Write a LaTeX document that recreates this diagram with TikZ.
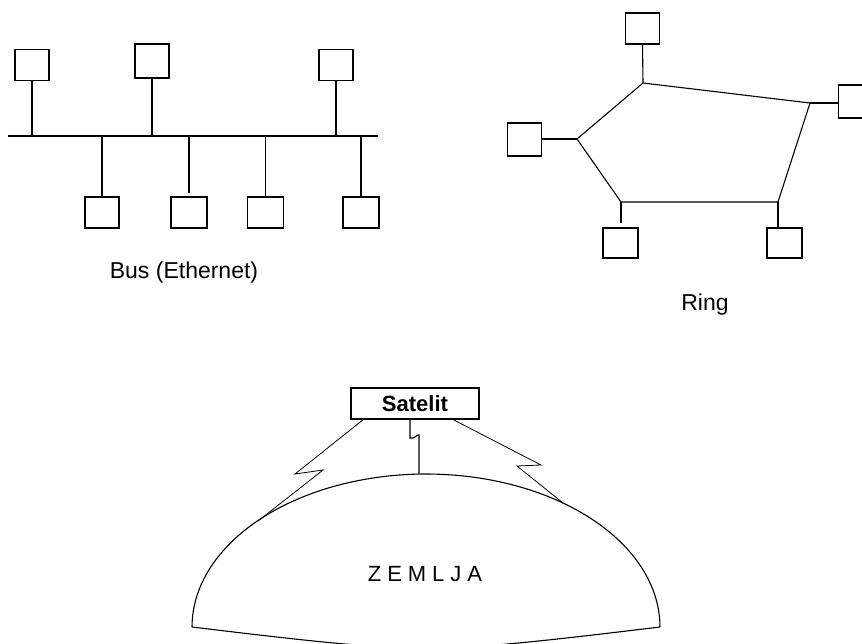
\documentclass[tikz,border=0pt]{standalone}
\usepackage{fontspec}
\setmainfont{Liberation Sans}
\begin{document}
\begin{tikzpicture}[x=1pt,y=-1pt,
  every node/.style={inner sep=0pt, outer sep=0pt},
  box/.style={draw, line width=1.2pt, minimum width=34pt, minimum height=31pt},
  wire/.style={line width=1.1pt},
  link/.style={line width=0.8pt, line join=miter},
  lbl/.style={font=\fontsize{23pt}{26pt}\selectfont}]
\useasboundingbox (0,0) rectangle (862,643);

% ---------- Bus ----------
\node[box] (b1) at (32,65) {};
\node[box, minimum height=34pt] (b2) at (152,61) {};
\node[box] (b3) at (336,65) {};
\node[box] (b4) at (102,212.5) {};
\node[box, minimum width=36pt] (b5) at (189,212.5) {};
\node[box, minimum width=36pt] (b6) at (265.5,212.5) {};
\node[box, minimum width=36pt] (b7) at (361,212.5) {};
\coordinate (busL) at (8,136);
\coordinate (busR) at (378,136);
\coordinate (b5end) at (189,193);
\draw[wire] (busL) -- (busR);
\draw[wire] (b1.south) -- (b1.south |- busL);
\draw[wire] (b2.south) -- (b2.south |- busL);
\draw[wire] (b3.south) -- (b3.south |- busL);
\draw[wire] (b4.north |- busL) -- (b4.north);
\draw[wire] (b5end |- busL) -- (b5end);
\draw[wire] (b6.north |- busL) -- (b6.north);
\draw[wire] (b7.north |- busL) -- (b7.north);
\node[lbl, anchor=base] (buslbl) at (184,278) {Bus (Ethernet)};

% ---------- Ring ----------
\node[box] (r1) at (642.5,28.5) {};
\node[box, minimum height=33pt] (r2) at (855.5,101.5) {};
\node[box, minimum height=33pt] (r3) at (524.5,139.5) {};
\node[box, minimum width=35pt, minimum height=30pt] (r4) at (620.5,243) {};
\node[box, minimum width=35pt, minimum height=30pt] (r5) at (784.5,243) {};
\coordinate (va) at (643,83);
\coordinate (vb) at (810,103);
\coordinate (vc) at (778,202);
\coordinate (vd) at (621,202);
\coordinate (ve) at (577,139);
\coordinate (r4end) at (621,223);
\draw[wire] (va) -- (vb) -- (vc) -- (vd) -- (ve) -- cycle;
\draw[wire] (r1.south) -- (va);
\draw[wire] (vb) -- (vb -| r2.west);
\draw[wire] (ve) -- (ve -| r3.east);
\draw[wire] (vd) -- (r4end);
\draw[wire] (vc) -- (vc |- r5.north);
\node[lbl, anchor=base] (ringlbl) at (705,310) {Ring};

% ---------- Satellite ----------
\node[box, minimum width=128pt, minimum height=31pt,
      font=\fontsize{22pt}{24pt}\selectfont\bfseries] (sat) at (415,403.5) {Satelit};
\coordinate (l0) at (364,419);
\coordinate (rr0) at (452,419);
\coordinate (c1) at (410,438);
\coordinate (eL) at (258,521);
\coordinate (eR) at (563,503);
\coordinate (eT) at (419,474);
\draw[wire] (sat.south -| c1) -- (c1) -- ++(3,0) -- ++(5,-3) -- ++(1,0) -- (eT);
\draw[link] (sat.south -| l0) -- (295,474) -- (323,470) -- (eL);
\draw[link] (sat.south -| rr0) -- (541,465) -- (517,466) -- (eR);

% ---------- Earth ----------
\draw[wire] plot[domain=180:0, samples=90] ({426+234*cos(\x)},{627-153*sin(\x)});
\draw[wire] (192,627) .. controls (300,640) and (360,647) .. (426,649)
                      .. controls (492,647) and (552,640) .. (660,627);
\node[anchor=base, font=\fontsize{22pt}{24pt}\selectfont\addfontfeature{LetterSpace=27}] (zemlja) at (425,581) {ZEMLJA};
\end{tikzpicture}
\end{document}
